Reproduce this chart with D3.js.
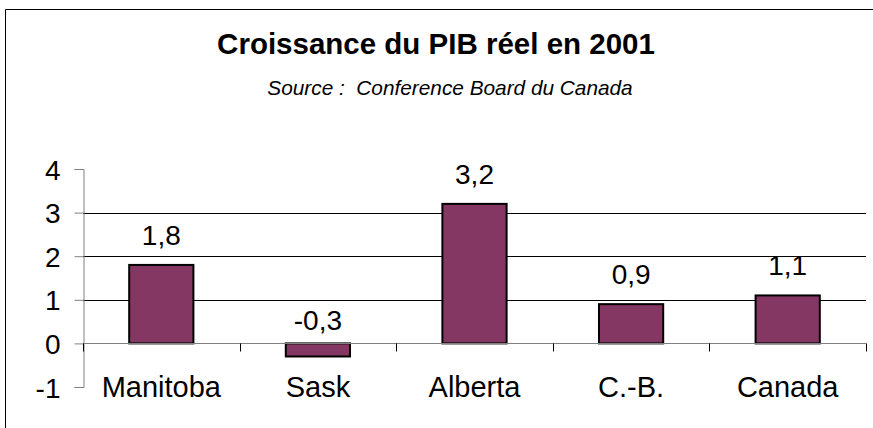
<!DOCTYPE html>
<meta charset="utf-8">
<style>
body { margin: 0; background: #fff; font-family: "Liberation Sans", Arial, sans-serif; }
text { fill: #000; }
</style>
<body>
<svg id="chart" width="873" height="428"></svg>
<script src="https://d3js.org/d3.v7.min.js"></script>
<script>

var regions = ["Manitoba", "Sask", "Alberta", "C.-B.", "Canada"];
var growth = [1.8, -0.3, 3.2, 0.9, 1.1];
var yTicks = [-1, 0, 1, 2, 3, 4];

var svg = d3.select("#chart"),
    width = +svg.attr("width"),
    height = +svg.attr("height");

// plot area
var plot = {left: 83, right: 866, top: 169, bottom: 387};

// outer frame (left + top edges visible, rest is off the page)
svg.append("path")
    .attr("d", "M5.5," + height + "V9.5H" + width)
    .attr("fill", "none")
    .attr("stroke", "#000")
    .attr("stroke-width", 1);

svg.append("text")
    .attr("x", 436).attr("y", 54)
    .attr("text-anchor", "middle")
    .style("font-size", "29.5px")
    .style("font-weight", "bold")
    .text("Croissance du PIB réel en 2001");

svg.append("text")
    .attr("x", 450).attr("y", 95)
    .attr("text-anchor", "middle")
    .attr("xml:space", "preserve")
    .style("white-space", "pre")
    .style("font-size", "20.8px")
    .style("font-style", "italic")
    .text("Source :  Conference Board du Canada");

var x = d3.scaleBand()
    .domain(regions)
    .range([plot.left, plot.right])
    .paddingInner(0.59)
    .paddingOuter(0.295);

var y = d3.scaleLinear()
    .domain([-1, 4])
    .range([plot.bottom, plot.top]);

var g = svg.append("g");

// gridlines
g.selectAll("line.grid")
    .data([1, 2, 3])
    .enter().append("line")
    .attr("class", "grid")
    .attr("x1", plot.left).attr("x2", plot.right)
    .attr("y1", function(d) { return Math.round(y(d)) + 0.5; })
    .attr("y2", function(d) { return Math.round(y(d)) + 0.5; })
    .attr("stroke", "#000");

// y axis
var yAxis = g.append("g")
    .attr("transform", "translate(" + (plot.left + 0.5) + ",0)")
    .call(d3.axisLeft(y).tickValues(yTicks).tickSize(9).tickPadding(14)
        .tickFormat(function(d) { return d; }));
yAxis.select(".domain").attr("stroke", "#808080");
yAxis.selectAll(".tick line").attr("stroke", "#808080");
yAxis.selectAll("text")
    .attr("dy", "0.36em")
    .style("font-size", "28px")
    .style("font-family", "Liberation Sans, Arial, sans-serif");

// bars
g.selectAll("rect.bar")
    .data(growth)
    .enter().append("rect")
    .attr("class", "bar")
    .attr("x", function(d, i) { return x(regions[i]); })
    .attr("width", x.bandwidth())
    .attr("y", function(d) { return y(Math.max(d, 0)); })
    .attr("height", function(d) { return Math.abs(y(d) - y(0)); })
    .attr("fill", "#853763")
    .attr("stroke", "#000")
    .attr("stroke-width", 2);

// category axis on the zero line
var zeroY = Math.round(y(0)) + 0.5;
g.append("line")
    .attr("x1", plot.left).attr("x2", plot.right)
    .attr("y1", zeroY).attr("y2", zeroY)
    .attr("stroke", "#808080");

var step = x.step();
g.selectAll("line.ctick")
    .data(d3.range(regions.length + 1))
    .enter().append("line")
    .attr("class", "ctick")
    .attr("x1", function(i) { return Math.round(plot.left + i * step) + 0.5; })
    .attr("x2", function(i) { return Math.round(plot.left + i * step) + 0.5; })
    .attr("y1", zeroY).attr("y2", zeroY + 8)
    .attr("stroke", "#000");

// category labels
g.selectAll("text.cat")
    .data(regions)
    .enter().append("text")
    .attr("class", "cat")
    .attr("x", function(d) { return x(d) + x.bandwidth() / 2; })
    .attr("y", 397)
    .attr("text-anchor", "middle")
    .style("font-size", "29px")
    .text(function(d) { return d; });

// value labels
g.selectAll("text.val")
    .data(growth)
    .enter().append("text")
    .attr("class", "val")
    .attr("x", function(d, i) { return x(regions[i]) + x.bandwidth() / 2; })
    .attr("y", function(d) { return y(Math.max(d, 0)) - (d < 0 ? 13 : 20); })
    .attr("text-anchor", "middle")
    .style("font-size", "28px")
    .text(function(d) { return String(d).replace(".", ","); });

</script>
</body>
